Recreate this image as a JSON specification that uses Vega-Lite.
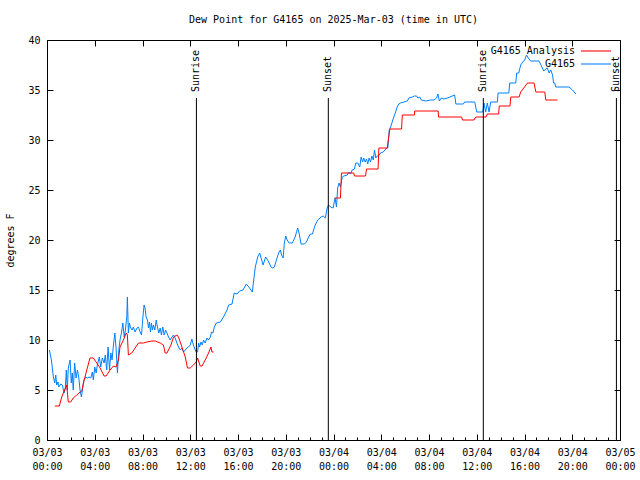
{
  "$schema": "https://vega.github.io/schema/vega-lite/v6.json",
  "width": 573,
  "height": 400,
  "autosize": {"type": "none"},
  "padding": {"left": 47, "top": 40, "right": 20, "bottom": 40},
  "background": "white",
  "config": {
    "font": "DejaVu Sans Mono",
    "view": {"stroke": "black", "strokeWidth": 1},
    "axis": {"labelFont": "DejaVu Sans Mono", "labelFontSize": 10, "labelColor": "black", "titleFont": "DejaVu Sans Mono", "titleFontSize": 10, "titleFontWeight": "normal", "titleColor": "black", "tickColor": "black", "domain": false, "grid": false}
  },
  "title": {"text": "Dew Point for G4165 on 2025-Mar-03 (time in UTC)", "font": "DejaVu Sans Mono", "fontSize": 10, "fontWeight": "normal", "anchor": "middle", "offset": 10, "color": "black"},
  "datasets": {
    "obs": [
      {"series":"G4165","seg":"b","time":"2025-03-03T00:12Z","dewpoint":9.0},
      {"series":"G4165","seg":"b","time":"2025-03-03T00:22Z","dewpoint":8.0},
      {"series":"G4165","seg":"b","time":"2025-03-03T00:32Z","dewpoint":6.3},
      {"series":"G4165","seg":"b","time":"2025-03-03T00:39Z","dewpoint":5.7},
      {"series":"G4165","seg":"b","time":"2025-03-03T00:44Z","dewpoint":6.5},
      {"series":"G4165","seg":"b","time":"2025-03-03T00:49Z","dewpoint":5.5},
      {"series":"G4165","seg":"b","time":"2025-03-03T00:55Z","dewpoint":5.8},
      {"series":"G4165","seg":"b","time":"2025-03-03T01:00Z","dewpoint":5.3},
      {"series":"G4165","seg":"b","time":"2025-03-03T01:09Z","dewpoint":5.6},
      {"series":"G4165","seg":"b","time":"2025-03-03T01:17Z","dewpoint":5.5},
      {"series":"G4165","seg":"b","time":"2025-03-03T01:26Z","dewpoint":4.7},
      {"series":"G4165","seg":"b","time":"2025-03-03T01:32Z","dewpoint":5.2},
      {"series":"G4165","seg":"b","time":"2025-03-03T01:37Z","dewpoint":7.0},
      {"series":"G4165","seg":"b","time":"2025-03-03T01:42Z","dewpoint":5.0},
      {"series":"G4165","seg":"b","time":"2025-03-03T01:47Z","dewpoint":7.2},
      {"series":"G4165","seg":"b","time":"2025-03-03T01:56Z","dewpoint":8.0},
      {"series":"G4165","seg":"b","time":"2025-03-03T02:02Z","dewpoint":5.7},
      {"series":"G4165","seg":"b","time":"2025-03-03T02:07Z","dewpoint":6.7},
      {"series":"G4165","seg":"b","time":"2025-03-03T02:12Z","dewpoint":5.0},
      {"series":"G4165","seg":"b","time":"2025-03-03T02:19Z","dewpoint":7.7},
      {"series":"G4165","seg":"b","time":"2025-03-03T02:26Z","dewpoint":6.2},
      {"series":"G4165","seg":"b","time":"2025-03-03T02:33Z","dewpoint":7.0},
      {"series":"G4165","seg":"b","time":"2025-03-03T02:40Z","dewpoint":6.2},
      {"series":"G4165","seg":"b","time":"2025-03-03T02:46Z","dewpoint":5.0},
      {"series":"G4165","seg":"b","time":"2025-03-03T02:53Z","dewpoint":4.3},
      {"series":"G4165","seg":"b","time":"2025-03-03T03:00Z","dewpoint":5.3},
      {"series":"G4165","seg":"b","time":"2025-03-03T03:06Z","dewpoint":6.0},
      {"series":"G4165","seg":"b","time":"2025-03-03T03:15Z","dewpoint":6.3},
      {"series":"G4165","seg":"b","time":"2025-03-03T03:23Z","dewpoint":6.2},
      {"series":"G4165","seg":"b","time":"2025-03-03T03:31Z","dewpoint":6.3},
      {"series":"G4165","seg":"b","time":"2025-03-03T03:40Z","dewpoint":6.2},
      {"series":"G4165","seg":"b","time":"2025-03-03T03:48Z","dewpoint":6.8},
      {"series":"G4165","seg":"b","time":"2025-03-03T03:53Z","dewpoint":6.0},
      {"series":"G4165","seg":"b","time":"2025-03-03T04:00Z","dewpoint":7.3},
      {"series":"G4165","seg":"b","time":"2025-03-03T04:07Z","dewpoint":6.7},
      {"series":"G4165","seg":"b","time":"2025-03-03T04:13Z","dewpoint":7.5},
      {"series":"G4165","seg":"b","time":"2025-03-03T04:23Z","dewpoint":8.3},
      {"series":"G4165","seg":"b","time":"2025-03-03T04:30Z","dewpoint":7.3},
      {"series":"G4165","seg":"b","time":"2025-03-03T04:38Z","dewpoint":8.2},
      {"series":"G4165","seg":"b","time":"2025-03-03T04:47Z","dewpoint":7.7},
      {"series":"G4165","seg":"b","time":"2025-03-03T04:53Z","dewpoint":8.5},
      {"series":"G4165","seg":"b","time":"2025-03-03T05:00Z","dewpoint":7.0},
      {"series":"G4165","seg":"b","time":"2025-03-03T05:07Z","dewpoint":9.3},
      {"series":"G4165","seg":"b","time":"2025-03-03T05:14Z","dewpoint":7.0},
      {"series":"G4165","seg":"b","time":"2025-03-03T05:21Z","dewpoint":8.7},
      {"series":"G4165","seg":"b","time":"2025-03-03T05:27Z","dewpoint":8.0},
      {"series":"G4165","seg":"b","time":"2025-03-03T05:34Z","dewpoint":9.5},
      {"series":"G4165","seg":"b","time":"2025-03-03T05:41Z","dewpoint":10.7},
      {"series":"G4165","seg":"b","time":"2025-03-03T05:47Z","dewpoint":9.2},
      {"series":"G4165","seg":"b","time":"2025-03-03T05:54Z","dewpoint":6.7},
      {"series":"G4165","seg":"b","time":"2025-03-03T06:01Z","dewpoint":9.0},
      {"series":"G4165","seg":"b","time":"2025-03-03T06:07Z","dewpoint":10.0},
      {"series":"G4165","seg":"b","time":"2025-03-03T06:14Z","dewpoint":10.7},
      {"series":"G4165","seg":"b","time":"2025-03-03T06:21Z","dewpoint":11.7},
      {"series":"G4165","seg":"b","time":"2025-03-03T06:28Z","dewpoint":10.3},
      {"series":"G4165","seg":"b","time":"2025-03-03T06:34Z","dewpoint":11.0},
      {"series":"G4165","seg":"b","time":"2025-03-03T06:41Z","dewpoint":12.3},
      {"series":"G4165","seg":"b","time":"2025-03-03T06:44Z","dewpoint":14.3},
      {"series":"G4165","seg":"b","time":"2025-03-03T06:49Z","dewpoint":10.7},
      {"series":"G4165","seg":"b","time":"2025-03-03T06:54Z","dewpoint":11.7},
      {"series":"G4165","seg":"b","time":"2025-03-03T07:01Z","dewpoint":11.2},
      {"series":"G4165","seg":"b","time":"2025-03-03T07:08Z","dewpoint":11.0},
      {"series":"G4165","seg":"b","time":"2025-03-03T07:14Z","dewpoint":11.3},
      {"series":"G4165","seg":"b","time":"2025-03-03T07:23Z","dewpoint":10.8},
      {"series":"G4165","seg":"b","time":"2025-03-03T07:32Z","dewpoint":11.2},
      {"series":"G4165","seg":"b","time":"2025-03-03T07:40Z","dewpoint":11.3},
      {"series":"G4165","seg":"b","time":"2025-03-03T07:48Z","dewpoint":10.8},
      {"series":"G4165","seg":"b","time":"2025-03-03T07:55Z","dewpoint":10.5},
      {"series":"G4165","seg":"b","time":"2025-03-03T08:02Z","dewpoint":12.3},
      {"series":"G4165","seg":"b","time":"2025-03-03T08:08Z","dewpoint":13.5},
      {"series":"G4165","seg":"b","time":"2025-03-03T08:13Z","dewpoint":13.2},
      {"series":"G4165","seg":"b","time":"2025-03-03T08:18Z","dewpoint":12.3},
      {"series":"G4165","seg":"b","time":"2025-03-03T08:25Z","dewpoint":12.0},
      {"series":"G4165","seg":"b","time":"2025-03-03T08:30Z","dewpoint":11.2},
      {"series":"G4165","seg":"b","time":"2025-03-03T08:35Z","dewpoint":11.8},
      {"series":"G4165","seg":"b","time":"2025-03-03T08:40Z","dewpoint":10.8},
      {"series":"G4165","seg":"b","time":"2025-03-03T08:45Z","dewpoint":11.7},
      {"series":"G4165","seg":"b","time":"2025-03-03T08:50Z","dewpoint":11.0},
      {"series":"G4165","seg":"b","time":"2025-03-03T08:55Z","dewpoint":11.5},
      {"series":"G4165","seg":"b","time":"2025-03-03T09:02Z","dewpoint":11.0},
      {"series":"G4165","seg":"b","time":"2025-03-03T09:09Z","dewpoint":12.0},
      {"series":"G4165","seg":"b","time":"2025-03-03T09:15Z","dewpoint":11.3},
      {"series":"G4165","seg":"b","time":"2025-03-03T09:22Z","dewpoint":10.7},
      {"series":"G4165","seg":"b","time":"2025-03-03T09:29Z","dewpoint":11.2},
      {"series":"G4165","seg":"b","time":"2025-03-03T09:35Z","dewpoint":10.5},
      {"series":"G4165","seg":"b","time":"2025-03-03T09:42Z","dewpoint":11.3},
      {"series":"G4165","seg":"b","time":"2025-03-03T09:49Z","dewpoint":10.5},
      {"series":"G4165","seg":"b","time":"2025-03-03T09:56Z","dewpoint":11.0},
      {"series":"G4165","seg":"b","time":"2025-03-03T10:03Z","dewpoint":10.7},
      {"series":"G4165","seg":"b","time":"2025-03-03T10:11Z","dewpoint":10.3},
      {"series":"G4165","seg":"b","time":"2025-03-03T10:19Z","dewpoint":10.0},
      {"series":"G4165","seg":"b","time":"2025-03-03T10:28Z","dewpoint":10.3},
      {"series":"G4165","seg":"b","time":"2025-03-03T10:36Z","dewpoint":10.5},
      {"series":"G4165","seg":"b","time":"2025-03-03T10:44Z","dewpoint":10.2},
      {"series":"G4165","seg":"b","time":"2025-03-03T10:53Z","dewpoint":9.7},
      {"series":"G4165","seg":"b","time":"2025-03-03T11:01Z","dewpoint":9.3},
      {"series":"G4165","seg":"b","time":"2025-03-03T11:10Z","dewpoint":9.0},
      {"series":"G4165","seg":"b","time":"2025-03-03T11:18Z","dewpoint":9.2},
      {"series":"G4165","seg":"b","time":"2025-03-03T11:26Z","dewpoint":8.8},
      {"series":"G4165","seg":"b","time":"2025-03-03T11:35Z","dewpoint":9.0},
      {"series":"G4165","seg":"b","time":"2025-03-03T11:43Z","dewpoint":9.2},
      {"series":"G4165","seg":"b","time":"2025-03-03T11:51Z","dewpoint":9.3},
      {"series":"G4165","seg":"b","time":"2025-03-03T12:00Z","dewpoint":9.5},
      {"series":"G4165","seg":"b","time":"2025-03-03T12:08Z","dewpoint":10.1},
      {"series":"G4165","seg":"b","time":"2025-03-03T12:16Z","dewpoint":9.5},
      {"series":"G4165","seg":"b","time":"2025-03-03T12:25Z","dewpoint":9.0},
      {"series":"G4165","seg":"b","time":"2025-03-03T12:30Z","dewpoint":8.8},
      {"series":"G4165","seg":"b","time":"2025-03-03T12:37Z","dewpoint":8.8},
      {"series":"G4165","seg":"b","time":"2025-03-03T12:42Z","dewpoint":9.7},
      {"series":"G4165","seg":"b","time":"2025-03-03T12:47Z","dewpoint":9.3},
      {"series":"G4165","seg":"b","time":"2025-03-03T12:54Z","dewpoint":9.8},
      {"series":"G4165","seg":"b","time":"2025-03-03T13:00Z","dewpoint":9.5},
      {"series":"G4165","seg":"b","time":"2025-03-03T13:07Z","dewpoint":10.0},
      {"series":"G4165","seg":"b","time":"2025-03-03T13:15Z","dewpoint":9.7},
      {"series":"G4165","seg":"b","time":"2025-03-03T13:24Z","dewpoint":10.2},
      {"series":"G4165","seg":"b","time":"2025-03-03T13:32Z","dewpoint":10.0},
      {"series":"G4165","seg":"b","time":"2025-03-03T13:41Z","dewpoint":10.3},
      {"series":"G4165","seg":"b","time":"2025-03-03T13:47Z","dewpoint":10.8},
      {"series":"G4165","seg":"b","time":"2025-03-03T13:54Z","dewpoint":10.7},
      {"series":"G4165","seg":"b","time":"2025-03-03T14:01Z","dewpoint":11.3},
      {"series":"G4165","seg":"b","time":"2025-03-03T14:11Z","dewpoint":11.7},
      {"series":"G4165","seg":"b","time":"2025-03-03T14:31Z","dewpoint":11.8},
      {"series":"G4165","seg":"b","time":"2025-03-03T14:47Z","dewpoint":12.3},
      {"series":"G4165","seg":"b","time":"2025-03-03T15:05Z","dewpoint":13.0},
      {"series":"G4165","seg":"b","time":"2025-03-03T15:13Z","dewpoint":13.5},
      {"series":"G4165","seg":"b","time":"2025-03-03T15:30Z","dewpoint":13.6},
      {"series":"G4165","seg":"b","time":"2025-03-03T15:41Z","dewpoint":14.7},
      {"series":"G4165","seg":"b","time":"2025-03-03T15:55Z","dewpoint":14.6},
      {"series":"G4165","seg":"b","time":"2025-03-03T16:08Z","dewpoint":14.9},
      {"series":"G4165","seg":"b","time":"2025-03-03T16:25Z","dewpoint":15.0},
      {"series":"G4165","seg":"b","time":"2025-03-03T16:42Z","dewpoint":15.6},
      {"series":"G4165","seg":"b","time":"2025-03-03T16:58Z","dewpoint":15.2},
      {"series":"G4165","seg":"b","time":"2025-03-03T17:12Z","dewpoint":14.8},
      {"series":"G4165","seg":"b","time":"2025-03-03T17:19Z","dewpoint":16.0},
      {"series":"G4165","seg":"b","time":"2025-03-03T17:27Z","dewpoint":17.3},
      {"series":"G4165","seg":"b","time":"2025-03-03T17:39Z","dewpoint":18.3},
      {"series":"G4165","seg":"b","time":"2025-03-03T17:49Z","dewpoint":18.7},
      {"series":"G4165","seg":"b","time":"2025-03-03T17:59Z","dewpoint":18.0},
      {"series":"G4165","seg":"b","time":"2025-03-03T18:06Z","dewpoint":17.5},
      {"series":"G4165","seg":"b","time":"2025-03-03T18:19Z","dewpoint":18.3},
      {"series":"G4165","seg":"b","time":"2025-03-03T18:32Z","dewpoint":17.9},
      {"series":"G4165","seg":"b","time":"2025-03-03T18:46Z","dewpoint":17.3},
      {"series":"G4165","seg":"b","time":"2025-03-03T18:53Z","dewpoint":17.2},
      {"series":"G4165","seg":"b","time":"2025-03-03T19:03Z","dewpoint":17.3},
      {"series":"G4165","seg":"b","time":"2025-03-03T19:13Z","dewpoint":18.0},
      {"series":"G4165","seg":"b","time":"2025-03-03T19:26Z","dewpoint":18.8},
      {"series":"G4165","seg":"b","time":"2025-03-03T19:33Z","dewpoint":19.0},
      {"series":"G4165","seg":"b","time":"2025-03-03T19:39Z","dewpoint":18.5},
      {"series":"G4165","seg":"b","time":"2025-03-03T19:47Z","dewpoint":18.2},
      {"series":"G4165","seg":"b","time":"2025-03-03T19:53Z","dewpoint":19.7},
      {"series":"G4165","seg":"b","time":"2025-03-03T20:00Z","dewpoint":20.4},
      {"series":"G4165","seg":"b","time":"2025-03-03T20:07Z","dewpoint":20.0},
      {"series":"G4165","seg":"b","time":"2025-03-03T20:17Z","dewpoint":19.7},
      {"series":"G4165","seg":"b","time":"2025-03-03T20:33Z","dewpoint":19.7},
      {"series":"G4165","seg":"b","time":"2025-03-03T20:47Z","dewpoint":20.3},
      {"series":"G4165","seg":"b","time":"2025-03-03T21:00Z","dewpoint":21.2},
      {"series":"G4165","seg":"b","time":"2025-03-03T21:07Z","dewpoint":20.7},
      {"series":"G4165","seg":"b","time":"2025-03-03T21:17Z","dewpoint":19.6},
      {"series":"G4165","seg":"b","time":"2025-03-03T21:34Z","dewpoint":19.6},
      {"series":"G4165","seg":"b","time":"2025-03-03T21:44Z","dewpoint":19.8},
      {"series":"G4165","seg":"b","time":"2025-03-03T21:55Z","dewpoint":20.3},
      {"series":"G4165","seg":"b","time":"2025-03-03T22:04Z","dewpoint":20.6},
      {"series":"G4165","seg":"b","time":"2025-03-03T22:14Z","dewpoint":20.6},
      {"series":"G4165","seg":"b","time":"2025-03-03T22:28Z","dewpoint":21.5},
      {"series":"G4165","seg":"b","time":"2025-03-03T22:41Z","dewpoint":22.0},
      {"series":"G4165","seg":"b","time":"2025-03-03T22:58Z","dewpoint":22.3},
      {"series":"G4165","seg":"b","time":"2025-03-03T23:08Z","dewpoint":22.4},
      {"series":"G4165","seg":"b","time":"2025-03-03T23:19Z","dewpoint":22.2},
      {"series":"G4165","seg":"b","time":"2025-03-03T23:28Z","dewpoint":23.2},
      {"series":"G4165","seg":"b","time":"2025-03-03T23:35Z","dewpoint":23.5},
      {"series":"G4165","seg":"b","time":"2025-03-03T23:45Z","dewpoint":23.3},
      {"series":"G4165","seg":"b","time":"2025-03-03T23:58Z","dewpoint":23.2},
      {"series":"G4165","seg":"b","time":"2025-03-04T00:08Z","dewpoint":24.2},
      {"series":"G4165","seg":"b","time":"2025-03-04T00:15Z","dewpoint":23.3},
      {"series":"G4165","seg":"b","time":"2025-03-04T00:21Z","dewpoint":25.2},
      {"series":"G4165","seg":"b","time":"2025-03-04T00:28Z","dewpoint":25.7},
      {"series":"G4165","seg":"b","time":"2025-03-04T00:35Z","dewpoint":25.3},
      {"series":"G4165","seg":"b","time":"2025-03-04T00:44Z","dewpoint":26.3},
      {"series":"G4165","seg":"b","time":"2025-03-04T00:52Z","dewpoint":26.4},
      {"series":"G4165","seg":"b","time":"2025-03-04T01:09Z","dewpoint":26.5},
      {"series":"G4165","seg":"b","time":"2025-03-04T01:17Z","dewpoint":26.8},
      {"series":"G4165","seg":"b","time":"2025-03-04T01:25Z","dewpoint":26.6},
      {"series":"G4165","seg":"b","time":"2025-03-04T01:34Z","dewpoint":27.0},
      {"series":"G4165","seg":"b","time":"2025-03-04T01:45Z","dewpoint":27.1},
      {"series":"G4165","seg":"b","time":"2025-03-04T01:52Z","dewpoint":27.7},
      {"series":"G4165","seg":"b","time":"2025-03-04T02:02Z","dewpoint":27.7},
      {"series":"G4165","seg":"b","time":"2025-03-04T02:12Z","dewpoint":27.3},
      {"series":"G4165","seg":"b","time":"2025-03-04T02:19Z","dewpoint":28.3},
      {"series":"G4165","seg":"b","time":"2025-03-04T02:26Z","dewpoint":27.8},
      {"series":"G4165","seg":"b","time":"2025-03-04T02:32Z","dewpoint":28.2},
      {"series":"G4165","seg":"b","time":"2025-03-04T02:39Z","dewpoint":27.8},
      {"series":"G4165","seg":"b","time":"2025-03-04T02:46Z","dewpoint":28.1},
      {"series":"G4165","seg":"b","time":"2025-03-04T02:52Z","dewpoint":27.6},
      {"series":"G4165","seg":"b","time":"2025-03-04T02:59Z","dewpoint":28.2},
      {"series":"G4165","seg":"b","time":"2025-03-04T03:06Z","dewpoint":27.8},
      {"series":"G4165","seg":"b","time":"2025-03-04T03:13Z","dewpoint":28.4},
      {"series":"G4165","seg":"b","time":"2025-03-04T03:20Z","dewpoint":28.0},
      {"series":"G4165","seg":"b","time":"2025-03-04T03:26Z","dewpoint":29.0},
      {"series":"G4165","seg":"b","time":"2025-03-04T03:33Z","dewpoint":28.2},
      {"series":"G4165","seg":"b","time":"2025-03-04T03:40Z","dewpoint":28.4},
      {"series":"G4165","seg":"b","time":"2025-03-04T03:50Z","dewpoint":28.5},
      {"series":"G4165","seg":"b","time":"2025-03-04T03:56Z","dewpoint":28.7},
      {"series":"G4165","seg":"b","time":"2025-03-04T04:10Z","dewpoint":28.8},
      {"series":"G4165","seg":"b","time":"2025-03-04T04:27Z","dewpoint":29.2},
      {"series":"G4165","seg":"b","time":"2025-03-04T04:33Z","dewpoint":29.2},
      {"series":"G4165","seg":"b","time":"2025-03-04T04:40Z","dewpoint":31.0},
      {"series":"G4165","seg":"b","time":"2025-03-04T04:47Z","dewpoint":31.3},
      {"series":"G4165","seg":"b","time":"2025-03-04T04:55Z","dewpoint":31.8},
      {"series":"G4165","seg":"b","time":"2025-03-04T05:03Z","dewpoint":32.3},
      {"series":"G4165","seg":"b","time":"2025-03-04T05:12Z","dewpoint":32.8},
      {"series":"G4165","seg":"b","time":"2025-03-04T05:20Z","dewpoint":33.3},
      {"series":"G4165","seg":"b","time":"2025-03-04T05:28Z","dewpoint":33.6},
      {"series":"G4165","seg":"b","time":"2025-03-04T05:37Z","dewpoint":33.7},
      {"series":"G4165","seg":"b","time":"2025-03-04T05:54Z","dewpoint":33.8},
      {"series":"G4165","seg":"b","time":"2025-03-04T06:11Z","dewpoint":33.9},
      {"series":"G4165","seg":"b","time":"2025-03-04T06:19Z","dewpoint":34.2},
      {"series":"G4165","seg":"b","time":"2025-03-04T06:36Z","dewpoint":34.3},
      {"series":"G4165","seg":"b","time":"2025-03-04T06:47Z","dewpoint":34.4},
      {"series":"G4165","seg":"b","time":"2025-03-04T06:58Z","dewpoint":34.4},
      {"series":"G4165","seg":"b","time":"2025-03-04T07:04Z","dewpoint":34.2},
      {"series":"G4165","seg":"b","time":"2025-03-04T07:14Z","dewpoint":34.3},
      {"series":"G4165","seg":"b","time":"2025-03-04T07:21Z","dewpoint":34.0},
      {"series":"G4165","seg":"b","time":"2025-03-04T07:43Z","dewpoint":33.9},
      {"series":"G4165","seg":"b","time":"2025-03-04T08:08Z","dewpoint":34.0},
      {"series":"G4165","seg":"b","time":"2025-03-04T08:25Z","dewpoint":34.0},
      {"series":"G4165","seg":"b","time":"2025-03-04T08:38Z","dewpoint":34.2},
      {"series":"G4165","seg":"b","time":"2025-03-04T08:45Z","dewpoint":34.6},
      {"series":"G4165","seg":"b","time":"2025-03-04T08:52Z","dewpoint":33.9},
      {"series":"G4165","seg":"b","time":"2025-03-04T09:02Z","dewpoint":34.2},
      {"series":"G4165","seg":"b","time":"2025-03-04T09:15Z","dewpoint":34.1},
      {"series":"G4165","seg":"b","time":"2025-03-04T09:32Z","dewpoint":34.2},
      {"series":"G4165","seg":"b","time":"2025-03-04T09:45Z","dewpoint":34.3},
      {"series":"G4165","seg":"b","time":"2025-03-04T10:09Z","dewpoint":34.5},
      {"series":"G4165","seg":"b","time":"2025-03-04T10:15Z","dewpoint":33.6},
      {"series":"G4165","seg":"b","time":"2025-03-04T10:53Z","dewpoint":33.6},
      {"series":"G4165","seg":"b","time":"2025-03-04T10:59Z","dewpoint":33.8},
      {"series":"G4165","seg":"b","time":"2025-03-04T11:50Z","dewpoint":33.8},
      {"series":"G4165","seg":"b","time":"2025-03-04T12:00Z","dewpoint":32.8},
      {"series":"G4165","seg":"b","time":"2025-03-04T12:30Z","dewpoint":32.8},
      {"series":"G4165","seg":"b","time":"2025-03-04T12:36Z","dewpoint":33.7},
      {"series":"G4165","seg":"b","time":"2025-03-04T12:45Z","dewpoint":32.8},
      {"series":"G4165","seg":"b","time":"2025-03-04T12:53Z","dewpoint":33.7},
      {"series":"G4165","seg":"b","time":"2025-03-04T13:02Z","dewpoint":32.8},
      {"series":"G4165","seg":"b","time":"2025-03-04T13:10Z","dewpoint":33.8},
      {"series":"G4165","seg":"b","time":"2025-03-04T13:44Z","dewpoint":33.8},
      {"series":"G4165","seg":"b","time":"2025-03-04T13:47Z","dewpoint":34.7},
      {"series":"G4165","seg":"b","time":"2025-03-04T14:41Z","dewpoint":34.7},
      {"series":"G4165","seg":"b","time":"2025-03-04T14:46Z","dewpoint":35.7},
      {"series":"G4165","seg":"b","time":"2025-03-04T15:16Z","dewpoint":35.7},
      {"series":"G4165","seg":"b","time":"2025-03-04T15:21Z","dewpoint":36.7},
      {"series":"G4165","seg":"b","time":"2025-03-04T15:31Z","dewpoint":36.7},
      {"series":"G4165","seg":"b","time":"2025-03-04T15:41Z","dewpoint":37.5},
      {"series":"G4165","seg":"b","time":"2025-03-04T15:51Z","dewpoint":37.8},
      {"series":"G4165","seg":"b","time":"2025-03-04T16:01Z","dewpoint":38.0},
      {"series":"G4165","seg":"b","time":"2025-03-04T16:10Z","dewpoint":38.5},
      {"series":"G4165","seg":"b","time":"2025-03-04T16:19Z","dewpoint":38.2},
      {"series":"G4165","seg":"b","time":"2025-03-04T16:31Z","dewpoint":37.9},
      {"series":"G4165","seg":"b","time":"2025-03-04T17:13Z","dewpoint":37.9},
      {"series":"G4165","seg":"b","time":"2025-03-04T17:25Z","dewpoint":37.4},
      {"series":"G4165","seg":"b","time":"2025-03-04T17:37Z","dewpoint":36.9},
      {"series":"G4165","seg":"b","time":"2025-03-04T17:47Z","dewpoint":37.1},
      {"series":"G4165","seg":"b","time":"2025-03-04T17:55Z","dewpoint":37.2},
      {"series":"G4165","seg":"b","time":"2025-03-04T18:04Z","dewpoint":36.7},
      {"series":"G4165","seg":"b","time":"2025-03-04T18:12Z","dewpoint":37.0},
      {"series":"G4165","seg":"b","time":"2025-03-04T18:21Z","dewpoint":36.5},
      {"series":"G4165","seg":"b","time":"2025-03-04T18:26Z","dewpoint":35.7},
      {"series":"G4165","seg":"b","time":"2025-03-04T18:32Z","dewpoint":35.7},
      {"series":"G4165","seg":"b","time":"2025-03-04T18:37Z","dewpoint":35.3},
      {"series":"G4165","seg":"b","time":"2025-03-04T19:44Z","dewpoint":35.3},
      {"series":"G4165","seg":"b","time":"2025-03-04T20:01Z","dewpoint":35.0},
      {"series":"G4165","seg":"b","time":"2025-03-04T20:18Z","dewpoint":34.6},
      {"series":"G4165 Analysis","seg":"a1","time":"2025-03-03T00:40Z","dewpoint":3.4},
      {"series":"G4165 Analysis","seg":"a1","time":"2025-03-03T01:02Z","dewpoint":3.4},
      {"series":"G4165 Analysis","seg":"a1","time":"2025-03-03T01:14Z","dewpoint":4.3},
      {"series":"G4165 Analysis","seg":"a1","time":"2025-03-03T01:39Z","dewpoint":5.5},
      {"series":"G4165 Analysis","seg":"a1","time":"2025-03-03T01:47Z","dewpoint":3.8},
      {"series":"G4165 Analysis","seg":"a1","time":"2025-03-03T01:59Z","dewpoint":3.8},
      {"series":"G4165 Analysis","seg":"a1","time":"2025-03-03T02:12Z","dewpoint":4.2},
      {"series":"G4165 Analysis","seg":"a1","time":"2025-03-03T02:30Z","dewpoint":4.5},
      {"series":"G4165 Analysis","seg":"a1","time":"2025-03-03T02:46Z","dewpoint":4.8},
      {"series":"G4165 Analysis","seg":"a1","time":"2025-03-03T02:55Z","dewpoint":4.9},
      {"series":"G4165 Analysis","seg":"a1","time":"2025-03-03T03:03Z","dewpoint":5.7},
      {"series":"G4165 Analysis","seg":"a1","time":"2025-03-03T03:20Z","dewpoint":7.0},
      {"series":"G4165 Analysis","seg":"a1","time":"2025-03-03T03:36Z","dewpoint":8.2},
      {"series":"G4165 Analysis","seg":"a1","time":"2025-03-03T03:53Z","dewpoint":8.2},
      {"series":"G4165 Analysis","seg":"a1","time":"2025-03-03T04:10Z","dewpoint":7.7},
      {"series":"G4165 Analysis","seg":"a1","time":"2025-03-03T04:27Z","dewpoint":7.2},
      {"series":"G4165 Analysis","seg":"a1","time":"2025-03-03T04:47Z","dewpoint":6.4},
      {"series":"G4165 Analysis","seg":"a1","time":"2025-03-03T04:57Z","dewpoint":6.4},
      {"series":"G4165 Analysis","seg":"a1","time":"2025-03-03T05:17Z","dewpoint":7.0},
      {"series":"G4165 Analysis","seg":"a1","time":"2025-03-03T05:34Z","dewpoint":7.4},
      {"series":"G4165 Analysis","seg":"a1","time":"2025-03-03T05:47Z","dewpoint":7.3},
      {"series":"G4165 Analysis","seg":"a1","time":"2025-03-03T05:59Z","dewpoint":8.0},
      {"series":"G4165 Analysis","seg":"a1","time":"2025-03-03T06:07Z","dewpoint":9.3},
      {"series":"G4165 Analysis","seg":"a1","time":"2025-03-03T06:24Z","dewpoint":10.0},
      {"series":"G4165 Analysis","seg":"a1","time":"2025-03-03T06:38Z","dewpoint":10.7},
      {"series":"G4165 Analysis","seg":"a1","time":"2025-03-03T06:44Z","dewpoint":10.5},
      {"series":"G4165 Analysis","seg":"a1","time":"2025-03-03T06:49Z","dewpoint":8.5},
      {"series":"G4165 Analysis","seg":"a1","time":"2025-03-03T07:06Z","dewpoint":8.7},
      {"series":"G4165 Analysis","seg":"a1","time":"2025-03-03T07:23Z","dewpoint":9.2},
      {"series":"G4165 Analysis","seg":"a1","time":"2025-03-03T07:40Z","dewpoint":9.7},
      {"series":"G4165 Analysis","seg":"a1","time":"2025-03-03T08:05Z","dewpoint":9.7},
      {"series":"G4165 Analysis","seg":"a1","time":"2025-03-03T08:22Z","dewpoint":9.8},
      {"series":"G4165 Analysis","seg":"a1","time":"2025-03-03T08:47Z","dewpoint":9.9},
      {"series":"G4165 Analysis","seg":"a1","time":"2025-03-03T09:04Z","dewpoint":9.9},
      {"series":"G4165 Analysis","seg":"a1","time":"2025-03-03T09:29Z","dewpoint":9.7},
      {"series":"G4165 Analysis","seg":"a1","time":"2025-03-03T09:45Z","dewpoint":9.5},
      {"series":"G4165 Analysis","seg":"a1","time":"2025-03-03T09:54Z","dewpoint":8.7},
      {"series":"G4165 Analysis","seg":"a1","time":"2025-03-03T10:03Z","dewpoint":8.7},
      {"series":"G4165 Analysis","seg":"a1","time":"2025-03-03T10:23Z","dewpoint":9.5},
      {"series":"G4165 Analysis","seg":"a1","time":"2025-03-03T10:36Z","dewpoint":10.3},
      {"series":"G4165 Analysis","seg":"a1","time":"2025-03-03T10:53Z","dewpoint":10.5},
      {"series":"G4165 Analysis","seg":"a1","time":"2025-03-03T11:01Z","dewpoint":10.3},
      {"series":"G4165 Analysis","seg":"a1","time":"2025-03-03T11:18Z","dewpoint":9.3},
      {"series":"G4165 Analysis","seg":"a1","time":"2025-03-03T11:35Z","dewpoint":8.3},
      {"series":"G4165 Analysis","seg":"a1","time":"2025-03-03T11:46Z","dewpoint":7.2},
      {"series":"G4165 Analysis","seg":"a1","time":"2025-03-03T12:00Z","dewpoint":7.2},
      {"series":"G4165 Analysis","seg":"a1","time":"2025-03-03T12:16Z","dewpoint":7.5},
      {"series":"G4165 Analysis","seg":"a1","time":"2025-03-03T12:30Z","dewpoint":7.8},
      {"series":"G4165 Analysis","seg":"a1","time":"2025-03-03T12:37Z","dewpoint":8.2},
      {"series":"G4165 Analysis","seg":"a1","time":"2025-03-03T12:50Z","dewpoint":7.4},
      {"series":"G4165 Analysis","seg":"a1","time":"2025-03-03T12:59Z","dewpoint":7.4},
      {"series":"G4165 Analysis","seg":"a1","time":"2025-03-03T13:15Z","dewpoint":8.0},
      {"series":"G4165 Analysis","seg":"a1","time":"2025-03-03T13:32Z","dewpoint":8.7},
      {"series":"G4165 Analysis","seg":"a1","time":"2025-03-03T13:44Z","dewpoint":9.3},
      {"series":"G4165 Analysis","seg":"a1","time":"2025-03-03T13:49Z","dewpoint":8.8},
      {"series":"G4165 Analysis","seg":"a1","time":"2025-03-03T13:57Z","dewpoint":8.8},
      {"series":"G4165 Analysis","seg":"a2","time":"2025-03-04T00:06Z","dewpoint":24.2},
      {"series":"G4165 Analysis","seg":"a2","time":"2025-03-04T00:35Z","dewpoint":24.2},
      {"series":"G4165 Analysis","seg":"a2","time":"2025-03-04T00:40Z","dewpoint":26.7},
      {"series":"G4165 Analysis","seg":"a2","time":"2025-03-04T01:42Z","dewpoint":26.7},
      {"series":"G4165 Analysis","seg":"a2","time":"2025-03-04T01:45Z","dewpoint":26.4},
      {"series":"G4165 Analysis","seg":"a2","time":"2025-03-04T02:41Z","dewpoint":26.4},
      {"series":"G4165 Analysis","seg":"a2","time":"2025-03-04T02:46Z","dewpoint":27.1},
      {"series":"G4165 Analysis","seg":"a2","time":"2025-03-04T03:44Z","dewpoint":27.1},
      {"series":"G4165 Analysis","seg":"a2","time":"2025-03-04T03:48Z","dewpoint":29.2},
      {"series":"G4165 Analysis","seg":"a2","time":"2025-03-04T04:30Z","dewpoint":29.2},
      {"series":"G4165 Analysis","seg":"a2","time":"2025-03-04T04:43Z","dewpoint":31.1},
      {"series":"G4165 Analysis","seg":"a2","time":"2025-03-04T05:42Z","dewpoint":31.1},
      {"series":"G4165 Analysis","seg":"a2","time":"2025-03-04T05:46Z","dewpoint":32.5},
      {"series":"G4165 Analysis","seg":"a2","time":"2025-03-04T06:47Z","dewpoint":32.5},
      {"series":"G4165 Analysis","seg":"a2","time":"2025-03-04T06:48Z","dewpoint":32.9},
      {"series":"G4165 Analysis","seg":"a2","time":"2025-03-04T08:46Z","dewpoint":32.9},
      {"series":"G4165 Analysis","seg":"a2","time":"2025-03-04T08:48Z","dewpoint":32.3},
      {"series":"G4165 Analysis","seg":"a2","time":"2025-03-04T10:44Z","dewpoint":32.3},
      {"series":"G4165 Analysis","seg":"a2","time":"2025-03-04T10:48Z","dewpoint":32.0},
      {"series":"G4165 Analysis","seg":"a2","time":"2025-03-04T11:46Z","dewpoint":32.0},
      {"series":"G4165 Analysis","seg":"a2","time":"2025-03-04T11:55Z","dewpoint":32.3},
      {"series":"G4165 Analysis","seg":"a2","time":"2025-03-04T12:47Z","dewpoint":32.3},
      {"series":"G4165 Analysis","seg":"a2","time":"2025-03-04T12:53Z","dewpoint":32.6},
      {"series":"G4165 Analysis","seg":"a2","time":"2025-03-04T13:50Z","dewpoint":32.6},
      {"series":"G4165 Analysis","seg":"a2","time":"2025-03-04T13:53Z","dewpoint":33.4},
      {"series":"G4165 Analysis","seg":"a2","time":"2025-03-04T14:47Z","dewpoint":33.4},
      {"series":"G4165 Analysis","seg":"a2","time":"2025-03-04T14:51Z","dewpoint":34.3},
      {"series":"G4165 Analysis","seg":"a2","time":"2025-03-04T15:33Z","dewpoint":34.3},
      {"series":"G4165 Analysis","seg":"a2","time":"2025-03-04T15:41Z","dewpoint":34.8},
      {"series":"G4165 Analysis","seg":"a2","time":"2025-03-04T16:15Z","dewpoint":35.7},
      {"series":"G4165 Analysis","seg":"a2","time":"2025-03-04T16:48Z","dewpoint":35.7},
      {"series":"G4165 Analysis","seg":"a2","time":"2025-03-04T16:57Z","dewpoint":34.8},
      {"series":"G4165 Analysis","seg":"a2","time":"2025-03-04T17:42Z","dewpoint":34.8},
      {"series":"G4165 Analysis","seg":"a2","time":"2025-03-04T17:47Z","dewpoint":34.0},
      {"series":"G4165 Analysis","seg":"a2","time":"2025-03-04T18:46Z","dewpoint":34.0}
    ],
    "sun": [
      {"event": "Sunrise", "time": "2025-03-03T12:31Z"},
      {"event": "Sunset", "time": "2025-03-03T23:34Z"},
      {"event": "Sunrise", "time": "2025-03-04T12:33Z"},
      {"event": "Sunset", "time": "2025-03-04T23:42Z"}
    ]
  },
  "layer": [
    {
      "data": {"name": "obs"},
      "mark": {"type": "line", "strokeWidth": 1, "clip": true},
      "encoding": {
        "x": {"field": "time", "type": "temporal",
          "scale": {"type": "utc", "domain": [1740960000000, 1741132800000]},
          "axis": {"orient": "bottom", "title": null, "tickSize": -6, "labelPadding": 13,
            "values": [1740960000000, 1740974400000, 1740988800000, 1741003200000, 1741017600000, 1741032000000, 1741046400000, 1741060800000, 1741075200000, 1741089600000, 1741104000000, 1741118400000, 1741132800000],
            "labelExpr": "[utcFormat(datum.value, '%m/%d'), utcFormat(datum.value, '%H:%M')]", "labelLineHeight": 14, "labelFlush": false, "labelOverlap": false, "labelBound": false}},
        "y": {"field": "dewpoint", "type": "quantitative",
          "scale": {"domain": [0, 40], "nice": false},
          "axis": {"orient": "left", "title": "degrees F", "values": [0, 5, 10, 15, 20, 25, 30, 35, 40], "tickSize": -6, "labelPadding": 13, "titlePadding": 12, "labelFlush": false}},
        "color": {"field": "series", "type": "nominal",
          "scale": {"domain": ["G4165 Analysis", "G4165"], "range": ["#ff0000", "#0080ff"]},
          "legend": {"orient": "none", "legendX": 543, "legendY": 5, "title": null, "symbolType": "M-2.5,-0.09H2.5V0.09H-2.5Z", "symbolSize": 144, "symbolStrokeWidth": 0, "labelAlign": "right", "labelOffset": -27, "labelFont": "DejaVu Sans Mono", "labelFontSize": 10, "labelColor": "black", "rowPadding": 2, "padding": 0,
            "encode": {"symbols": {"update": {"fill": {"scale": "color", "field": "value"}, "stroke": {"value": "transparent"}, "strokeWidth": {"value": 0}, "opacity": {"value": 1}, "fillOpacity": {"value": 1}}}}}},
        "detail": {"field": "seg"}
      }
    },
    {
      "data": {"name": "sun"},
      "mark": {"type": "rule", "color": "black", "strokeWidth": 1},
      "encoding": {
        "x": {"field": "time", "type": "temporal", "axis": {"orient": "top", "title": null, "labels": false, "tickSize": -6,
          "values": [1740960000000, 1740974400000, 1740988800000, 1741003200000, 1741017600000, 1741032000000, 1741046400000, 1741060800000, 1741075200000, 1741089600000, 1741104000000, 1741118400000, 1741132800000]}},
        "y": {"datum": 0, "type": "quantitative", "axis": {"orient": "right", "title": null, "labels": false, "tickSize": -6, "values": [0, 5, 10, 15, 20, 25, 30, 35, 40]}},
        "y2": {"datum": 34.2}
      }
    },
    {
      "data": {"name": "sun"},
      "mark": {"type": "text", "angle": 270, "align": "left", "baseline": "middle", "font": "DejaVu Sans Mono", "fontSize": 10, "color": "black"},
      "encoding": {
        "x": {"field": "time", "type": "temporal", "axis": {"orient": "bottom", "title": null, "labels": false, "tickSize": -3,
          "values": [1740960000000, 1740963600000, 1740967200000, 1740970800000, 1740974400000, 1740978000000, 1740981600000, 1740985200000, 1740988800000, 1740992400000, 1740996000000, 1740999600000, 1741003200000, 1741006800000, 1741010400000, 1741014000000, 1741017600000, 1741021200000, 1741024800000, 1741028400000, 1741032000000, 1741035600000, 1741039200000, 1741042800000, 1741046400000, 1741050000000, 1741053600000, 1741057200000, 1741060800000, 1741064400000, 1741068000000, 1741071600000, 1741075200000, 1741078800000, 1741082400000, 1741086000000, 1741089600000, 1741093200000, 1741096800000, 1741100400000, 1741104000000, 1741107600000, 1741111200000, 1741114800000, 1741118400000, 1741122000000, 1741125600000, 1741129200000, 1741132800000]}},
        "y": {"datum": 34.8, "type": "quantitative", "axis": null},
        "text": {"field": "event"}
      }
    }
  ],
  "resolve": {"axis": {"x": "independent", "y": "independent"}}
}
